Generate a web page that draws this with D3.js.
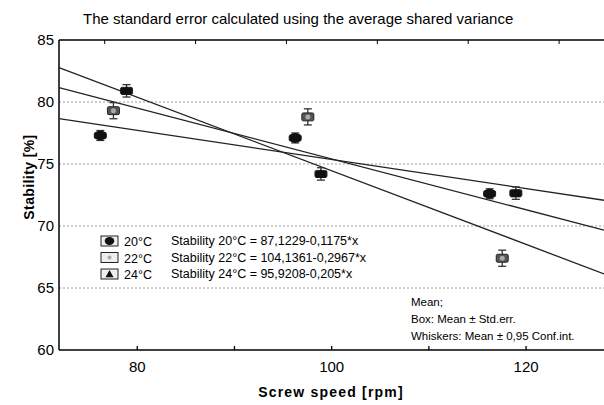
<!DOCTYPE html>
<html>
<head>
<meta charset="utf-8">
<script src="https://cdnjs.cloudflare.com/ajax/libs/d3/7.8.5/d3.min.js"></script>
<style>
  body { margin: 0; background: #fff; }
  svg { font-family: 'Liberation Sans', Arial, sans-serif; }
</style>
</head>
<body>
<svg width="604" height="405"></svg>
<script>
const margin = { top: 40, left: 59 };
const w = 604 - margin.left;
const h = 310;

// series
const temps = ['20°C', '22°C', '24°C'];
const speeds = [
  [76.25, 96.3, 116.3],
  [77.6, 97.6, 117.6],
  [78.95, 98.95, 119.0]
];
const means = [
  [77.3, 77.1, 72.6],
  [79.3, 78.8, 67.4],
  [80.9, 74.2, 72.65]
];
const stdErr = [0.25, 0.32, 0.28];
const conf = [0.4, 0.65, 0.5];

// fitted lines: Stability = a + b*x
const intercepts = [87.1229, 104.1361, 95.9208];
const slopes = [-0.1175, -0.2967, -0.205];
const equations = [
  'Stability  20°C = 87,1229-0,1175*x',
  'Stability  22°C = 104,1361-0,2967*x',
  'Stability  24°C = 95,9208-0,205*x'
];

const xTicks = [80, 90, 100, 110, 120];
const xLabels = [80, 100, 120];
const yTicks = [60, 65, 70, 75, 80, 85];
const gridTicks = [65, 70, 75, 80];
const topTicks = [76.65, 86, 95.35, 104.7, 114.05, 123.4];
const notes = ['Mean;', 'Box: Mean ± Std.err.', 'Whiskers: Mean ± 0,95 Conf.int.'];

const x = d3.scaleLinear().domain([72, 128.07]).range([0, w]);
const y = d3.scaleLinear().domain([60, 85]).range([h, 0]);

const svg = d3.select('svg');
const g = svg.append('g').attr('transform', `translate(${margin.left}, ${margin.top})`);

// title
svg.append('text')
  .attr('x', 83).attr('y', 24)
  .style('font-size', '15px')
  .text('The standard error calculated using the average shared variance');

// grid
g.selectAll('.grid')
  .data(gridTicks)
  .enter()
  .append('line')
  .attr('x1', 0).attr('x2', w)
  .attr('y1', d => y(d)).attr('y2', d => y(d))
  .attr('stroke', '#9a9a9a')
  .attr('stroke-dasharray', '2,2');

// axes
let yAxis = d3.axisLeft(y).tickValues(yTicks).tickSize(0).tickPadding(5);
g.append('g').call(yAxis)
  .call(s => s.select('.domain').remove())
  .selectAll('text').style('font-size', '15px').attr('fill', '#000');

let xAxis = d3.axisBottom(x).tickValues(xTicks).tickSize(-4).tickPadding(11)
  .tickFormat(d => xLabels.includes(d) ? d : '');
g.append('g').attr('transform', `translate(0, ${h})`).call(xAxis)
  .call(s => s.select('.domain').remove())
  .call(s => s.selectAll('line').attr('stroke-width', 1.3))
  .selectAll('text').style('font-size', '15px').attr('fill', '#000');

g.append('g').call(d3.axisTop(x).tickValues(topTicks).tickSize(-4).tickFormat(''))
  .call(s => s.select('.domain').remove());

// frame
g.append('line').attr('x1', 0).attr('x2', w).attr('y1', 0).attr('y2', 0).attr('stroke', '#000').attr('stroke-width', 1.3);
g.append('line').attr('x1', 0).attr('x2', w).attr('y1', h).attr('y2', h).attr('stroke', '#000').attr('stroke-width', 1.5);
g.append('line').attr('x1', 0).attr('x2', 0).attr('y1', 0).attr('y2', h).attr('stroke', '#000').attr('stroke-width', 1.5);

// axis titles
svg.append('text')
  .attr('transform', 'rotate(-90)')
  .attr('x', -177).attr('y', 34)
  .style('text-anchor', 'middle')
  .style('font-size', '14px').style('font-weight', 'bold')
  .style('letter-spacing', '0.4px')
  .text('Stability [%]');

svg.append('text')
  .attr('x', 331).attr('y', 397)
  .style('text-anchor', 'middle')
  .style('font-size', '14px').style('font-weight', 'bold')
  .style('letter-spacing', '1.2px')
  .text('Screw speed [rpm]');

// fitted lines
const dom = x.domain();
g.selectAll('.fit')
  .data(intercepts)
  .enter()
  .append('line')
  .attr('x1', x(dom[0])).attr('x2', x(dom[1]))
  .attr('y1', (a, i) => y(a + slopes[i] * dom[0]))
  .attr('y2', (a, i) => y(a + slopes[i] * dom[1]))
  .attr('stroke', '#222')
  .attr('stroke-width', 1.3);

// markers
const boxFill = ['#111', '#555', '#111'];
function marker(sel, i, cx, cy, s) {
  if (i === 0) {
    sel.append('ellipse').attr('cx', cx).attr('cy', cy).attr('rx', 6 * s).attr('ry', 5 * s).attr('fill', '#111');
  } else if (i === 1) {
    sel.append('circle').attr('cx', cx).attr('cy', cy).attr('r', 2.5 * s).attr('fill', '#aaa');
  } else {
    sel.append('path')
      .attr('d', `M${cx - 5 * s},${cy + 4 * s}L${cx},${cy - 5 * s}L${cx + 5 * s},${cy + 4 * s}Z`)
      .attr('fill', '#111');
  }
}

temps.forEach((t, i) => {
  const pts = speeds[i].map((s, j) => ({ s: s, m: means[i][j] }));
  const grp = g.append('g');
  pts.forEach(p => {
    const cx = x(p.s);
    grp.append('line')
      .attr('x1', cx).attr('x2', cx)
      .attr('y1', y(p.m - conf[i])).attr('y2', y(p.m + conf[i]))
      .attr('stroke', '#333').attr('stroke-width', 1.3);
    [p.m - conf[i], p.m + conf[i]].forEach(v => {
      grp.append('line')
        .attr('x1', cx - 4).attr('x2', cx + 4)
        .attr('y1', y(v)).attr('y2', y(v))
        .attr('stroke', '#333').attr('stroke-width', 1.3);
    });
    grp.append('rect')
      .attr('x', cx - 6).attr('width', 12)
      .attr('y', y(p.m + stdErr[i]))
      .attr('height', y(p.m - stdErr[i]) - y(p.m + stdErr[i]))
      .attr('rx', 1.5)
      .attr('fill', boxFill[i]).attr('stroke', '#222');
    marker(grp, i, cx, y(p.m), 1);
  });
});

// legend
const legend = svg.append('g').attr('transform', 'translate(101, 241)');
temps.forEach((t, i) => {
  const row = legend.append('g').attr('transform', `translate(0, ${i * 16.5})`);
  row.append('rect').attr('x', 0).attr('y', -5).attr('width', 17).attr('height', 10)
    .attr('fill', '#eee').attr('stroke', '#222');
  marker(row, i, 8.5, 0, 0.8);
  row.append('text').attr('x', 23).attr('y', 5).style('font-size', '12.5px').text(t);
  row.append('text').attr('x', 70).attr('y', 4).style('font-size', '12.5px').text(equations[i]);
});

// notes
svg.selectAll('.note')
  .data(notes)
  .enter()
  .append('text')
  .attr('x', 411)
  .attr('y', (d, i) => 306 + i * 17)
  .style('font-size', '11.5px')
  .text(d => d);
</script>
</body>
</html>
